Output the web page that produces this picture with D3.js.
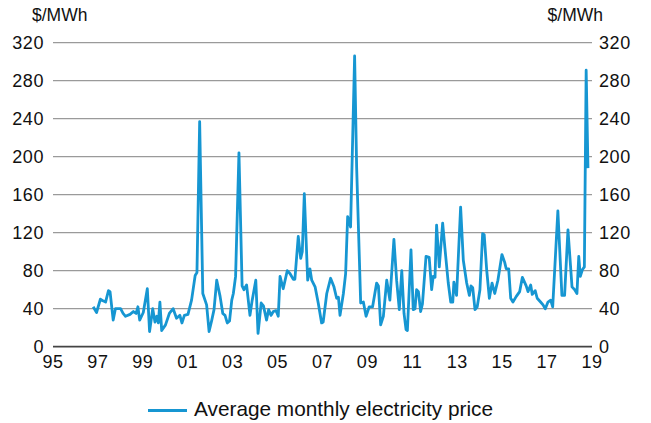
<!DOCTYPE html>
<html>
<head>
<meta charset="utf-8">
<title>Average monthly electricity price</title>
<style>
body { margin: 0; background: #fff; }
svg text { font-family: 'Liberation Sans', Arial, sans-serif; fill: #111; }
.tick-label { font-size: 18px; letter-spacing: 0.6px; }
.unit { font-size: 17.5px; }
.legend-text { font-size: 20.8px; }
</style>
</head>
<body>
<div id="chart"></div>
<script src="https://cdn.jsdelivr.net/npm/d3@7"></script>
<script>
// chart data (decimal year, $/MWh)
var dates = [
  1996.79, 1996.94, 1997.11, 1997.25, 1997.34, 1997.47, 1997.54, 1997.68, 1997.78, 1998.01,
  1998.12, 1998.23, 1998.43, 1998.58, 1998.70, 1998.78, 1998.86, 1999.02, 1999.20, 1999.30,
  1999.44, 1999.54, 1999.62, 1999.69, 1999.76, 1999.84, 2000.01, 2000.18, 2000.35, 2000.50,
  2000.65, 2000.74, 2000.85, 2001.01, 2001.17, 2001.33, 2001.41, 2001.53, 2001.67, 2001.84,
  2001.95, 2002.07, 2002.17, 2002.29, 2002.44, 2002.56, 2002.66, 2002.76, 2002.86, 2002.96,
  2003.03, 2003.13, 2003.28, 2003.42, 2003.50, 2003.62, 2003.77, 2003.87, 2004.03, 2004.13,
  2004.27, 2004.37, 2004.51, 2004.60, 2004.71, 2004.81, 2004.93, 2005.03, 2005.11, 2005.25,
  2005.43, 2005.55, 2005.70, 2005.77, 2005.92, 2006.03, 2006.10, 2006.19, 2006.34, 2006.44,
  2006.52, 2006.67, 2006.81, 2006.96, 2007.03, 2007.19, 2007.36, 2007.51, 2007.63, 2007.71,
  2007.78, 2007.93, 2008.03, 2008.12, 2008.25, 2008.43, 2008.52, 2008.70, 2008.82, 2008.94,
  2009.08, 2009.23, 2009.41, 2009.49, 2009.59, 2009.71, 2009.86, 2010.00, 2010.18, 2010.30,
  2010.42, 2010.53, 2010.63, 2010.72, 2010.78, 2010.94, 2011.04, 2011.12, 2011.19, 2011.27,
  2011.37, 2011.45, 2011.61, 2011.75, 2011.86, 2011.93, 2012.01, 2012.08, 2012.20, 2012.35,
  2012.45, 2012.60, 2012.71, 2012.80, 2012.85, 2012.97, 2013.15, 2013.27, 2013.42, 2013.54,
  2013.61, 2013.69, 2013.79, 2013.89, 2014.01, 2014.13, 2014.20, 2014.31, 2014.43, 2014.55,
  2014.67, 2014.81, 2014.99, 2015.11, 2015.18, 2015.29, 2015.38, 2015.48, 2015.63, 2015.78,
  2015.90, 2016.07, 2016.15, 2016.27, 2016.34, 2016.47, 2016.56, 2016.71, 2016.82, 2016.92,
  2017.04, 2017.16, 2017.25, 2017.48, 2017.66, 2017.78, 2017.93, 2018.11, 2018.23, 2018.33,
  2018.41, 2018.48, 2018.57, 2018.66, 2018.74, 2018.82
]
var prices = [
  42, 36, 50, 48, 47, 59, 58, 28, 40, 40,
  35, 32, 34, 37, 35, 42, 28, 36, 61, 16,
  40, 26, 32, 25, 47, 17, 23, 35, 40, 30,
  33, 25, 33, 34, 49, 75, 78, 237, 56, 44,
  16, 28, 39, 70, 53, 35, 33, 25, 27, 49,
  56, 74, 204, 64, 60, 65, 33, 49, 70, 14,
  46, 43, 28, 39, 33, 37, 38, 32, 74, 61,
  80, 77, 71, 71, 116, 93, 100, 161, 70, 82,
  70, 63, 46, 25, 26, 56, 72, 63, 51, 52,
  33, 56, 77, 137, 126, 306, 189, 46, 47, 32,
  42, 42, 67, 64, 23, 32, 70, 49, 113, 70,
  39, 80, 35, 18, 17, 102, 39, 40, 60, 58,
  37, 45, 95, 94, 60, 74, 73, 128, 84, 130,
  104, 67, 47, 47, 68, 54, 147, 91, 67, 54,
  64, 62, 39, 42, 60, 119, 118, 81, 51, 67,
  56, 70, 97, 89, 82, 82, 51, 47, 53, 58,
  73, 64, 58, 65, 55, 59, 51, 47, 44, 40,
  47, 49, 42, 143, 54, 54, 123, 63, 60, 56,
  95, 74, 81, 84, 291, 188
]
var yTicks = [0, 40, 80, 120, 160, 200, 240, 280, 320]
var xTicks = [1995, 1997, 1999, 2001, 2003, 2005, 2007, 2009, 2011, 2013, 2015, 2017, 2019]
var seriesName = 'Average monthly electricity price'
var unitLabel = '$/MWh'

var width = 651
var height = 423
var margin = {top: 42.7, right: 59, bottom: 76.3, left: 53}

var svg = d3.select('#chart').append('svg')
    .attr('width', width)
    .attr('height', height)

var x = d3.scaleLinear()
    .domain([1995, 2019])
    .range([margin.left, width - margin.right])

var y = d3.scaleLinear()
    .domain([0, 320])
    .range([height - margin.bottom, margin.top])

var data = dates.map(function (d, i) { return {t: d, v: prices[i]} })

// gridlines
svg.selectAll('.grid')
    .data(yTicks)
    .enter().append('line')
    .attr('class', 'grid')
    .attr('x1', x.range()[0])
    .attr('x2', x.range()[1])
    .attr('y1', function (d) { return y(d) })
    .attr('y2', function (d) { return y(d) })
    .attr('stroke', function (d) { return d === 0 ? '#444' : '#9a9a9a' })
    .attr('stroke-width', function (d) { return d === 0 ? 1.8 : 1.3 })

// left and right value labels
svg.selectAll('.ylabel-left')
    .data(yTicks)
    .enter().append('text')
    .attr('class', 'tick-label')
    .attr('x', 44)
    .attr('y', function (d) { return y(d) })
    .attr('dy', '0.35em')
    .attr('text-anchor', 'end')
    .text(function (d) { return d })

svg.selectAll('.ylabel-right')
    .data(yTicks)
    .enter().append('text')
    .attr('class', 'tick-label')
    .attr('x', 599)
    .attr('y', function (d) { return y(d) })
    .attr('dy', '0.35em')
    .text(function (d) { return d })

svg.append('text').attr('class', 'unit')
    .attr('x', 32).attr('y', 21)
    .text(unitLabel)

svg.append('text').attr('class', 'unit')
    .attr('x', 603).attr('y', 21)
    .attr('text-anchor', 'end')
    .text(unitLabel)

// year labels
svg.selectAll('.xlabel')
    .data(xTicks)
    .enter().append('text')
    .attr('class', 'tick-label')
    .attr('x', function (d) { return x(d) })
    .attr('y', 368)
    .attr('text-anchor', 'middle')
    .text(function (d) { return String(d).slice(2) })

// price line
var line = d3.line()
    .x(function (d) { return x(d.t) })
    .y(function (d) { return y(d.v) })

svg.append('path')
    .datum(data)
    .attr('d', line)
    .attr('fill', 'none')
    .attr('stroke', '#1696d2')
    .attr('stroke-width', 2.8)
    .attr('stroke-linejoin', 'round')

// legend
svg.append('line')
    .attr('x1', 148).attr('x2', 187)
    .attr('y1', 410.5).attr('y2', 410.5)
    .attr('stroke', '#1696d2')
    .attr('stroke-width', 2.8)

svg.append('text').attr('class', 'legend-text')
    .attr('x', 194).attr('y', 415.5)
    .text(seriesName)
</script>
</body>
</html>
